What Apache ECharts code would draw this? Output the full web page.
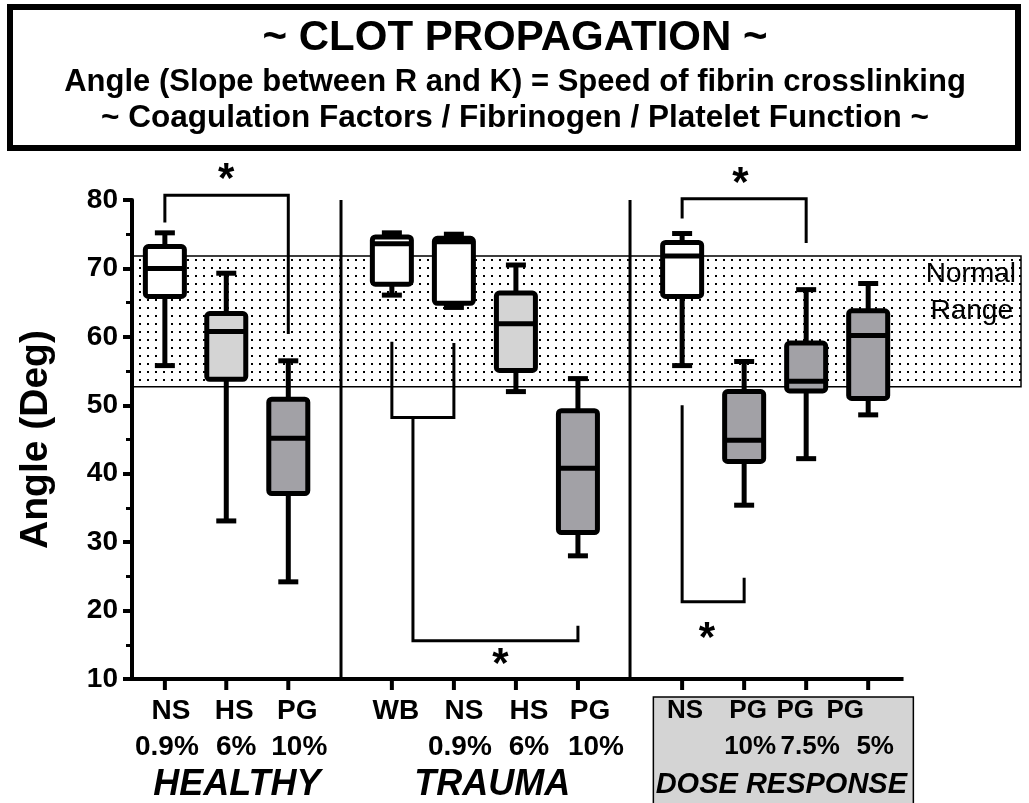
<!DOCTYPE html>
<html>
<head>
<meta charset="utf-8">
<script src="https://cdn.jsdelivr.net/npm/echarts/dist/echarts.min.js"></script>
<style>
  html, body { margin: 0; padding: 0; background: #fff; }
  #chart { width: 1029px; height: 803px; }
</style>
</head>
<body>
<div id="chart"></div>
<script>
// data
var categories = ['NS', 'HS', 'PG', 'WB', 'NS', 'HS', 'PG', 'NS', 'PG', 'PG', 'PG'];
var percents = ['0.9%', '6%', '10%', '', '0.9%', '6%', '10%', '', '10%', '7.5%', '5%'];
var groupNames = ['HEALTHY', 'TRAUMA', 'DOSE RESPONSE'];
var whiskerLow  = [55.8, 33.1, 24.2, 66.1, 64.3, 52.0, 28.0, 55.8, 35.4, 42.2, 48.6];
var quartile1   = [65.9, 53.8, 37.1, 67.7, 64.9, 55.1, 31.4, 65.9, 41.8, 52.1, 51.0];
var medians     = [70.0, 60.8, 45.2, 73.6, 73.9, 61.9, 40.8, 71.8, 44.9, 53.5, 60.2];
var quartile3   = [73.2, 63.4, 50.9, 74.6, 74.4, 66.4, 49.2, 73.8, 52.0, 59.1, 63.8];
var whiskerHigh = [75.2, 69.3, 56.5, 75.2, 75.0, 70.5, 53.9, 75.1, 56.4, 66.9, 67.8];
var normalRange = [52.7, 71.8];
var yTicks = [10, 20, 30, 40, 50, 60, 70, 80];

// significance brackets, in [category index, angle]
var brackets = [
  [[0, 76.7], [0, 80.7], [2, 80.7], [2, 60.4]],
  [[3, 59.3], [3, 48.2], [4, 48.2], [4, 59.1]],
  [[3.34, 48.2], [3.34, 15.6], [6, 15.6], [6, 17.8]],
  [[7, 77.3], [7, 80.2], [9, 80.2], [9, 73.7]],
  [[7, 50.0], [7, 21.3], [8, 21.3], [8, 24.8]]
];
var stars = [[1, 84.1], [4.75, 13.1], [7.94, 83.4], [7.4, 17.0]];

// layout (not data): x positions and label nudges in px
var xPos = [0.53, 1.52, 2.52, 4.19, 5.19, 6.19, 7.19, 8.87, 9.87, 10.87, 11.87];
var nameShift = [6, 8, 9, 4, 10, 13, 12, 3, 4, -11, -23];
var pctShift = [2, 10, 11, 0, 6, 13, 18, 0, 6, 4, 7];
var groupX = [1.69, 5.81, 10.47];
var dividerX = [3.37, 8.03];
var axisEndX = 12.44;
var xMax = 14.35;

var fillOf = { NS: '#ffffff', WB: '#ffffff', HS: '#d4d4d4', PG: '#a2a1a6' };
var FONT = '"Liberation Sans", Arial, sans-serif';

function xAt(idx) {
  var i = Math.floor(idx), f = idx - i;
  if (f === 0) return xPos[i];
  return xPos[i] + f * (xPos[i + 1] - xPos[i]);
}

// dotted fill for the normal range
var dots = document.createElement('canvas');
dots.width = 8; dots.height = 8;
var dctx = dots.getContext('2d');
dctx.fillStyle = '#000';
dctx.fillRect(3, 3, 2, 2);

var chart = echarts.init(document.getElementById('chart'));

function line(a, b, w) {
  return { type: 'line', shape: { x1: a[0], y1: a[1], x2: b[0], y2: b[1] },
           style: { stroke: '#000', lineWidth: w, lineCap: 'butt' } };
}

function bandItem(params, api) {
  var tl = api.coord([0, api.value(1)]);
  var br = api.coord([xMax, api.value(0)]);
  return {
    type: 'group',
    children: [
      { type: 'rect', shape: { x: tl[0], y: tl[1], width: br[0] - tl[0] - 1, height: br[1] - tl[1] },
        style: { fill: { image: dots, repeat: 'repeat' }, stroke: '#000', lineWidth: 1.5 } },
      { type: 'text', x: br[0] - 6, y: tl[1] + 18,
        style: { text: 'Normal', font: '28px ' + FONT, fill: '#000', align: 'right', verticalAlign: 'middle' } },
      { type: 'text', x: br[0] - 9, y: tl[1] + 55,
        style: { text: 'Range', font: '28px ' + FONT, fill: '#000', align: 'right', verticalAlign: 'middle' } }
    ]
  };
}

function frameItem(params, api) {
  var kids = [line(api.coord([0, 10]), api.coord([axisEndX, 10]), 4)];
  dividerX.forEach(function (d) {
    kids.push(line(api.coord([d, 10]), api.coord([d, 80]), 3));
  });
  return { type: 'group', children: kids };
}

function boxItem(params, api) {
  var i = params.dataIndex;
  var x = api.value(0);
  var lo = api.coord([x, api.value(1)]);
  var q1 = api.coord([x, api.value(2)]);
  var md = api.coord([x, api.value(3)]);
  var q3 = api.coord([x, api.value(4)]);
  var hi = api.coord([x, api.value(5)]);
  var base = api.coord([x, 10]);
  var cx = lo[0];
  var hw = 19.5, cw = 10;
  var fs = i >= 7 ? 26 : 28;
  return {
    type: 'group',
    children: [
      line([cx, q3[1]], [cx, hi[1]], 5),
      line([cx, q1[1]], [cx, lo[1]], 5),
      line([cx - cw, hi[1]], [cx + cw, hi[1]], 5),
      line([cx - cw, lo[1]], [cx + cw, lo[1]], 5),
      { type: 'rect', shape: { x: cx - hw, y: q3[1], width: hw * 2, height: q1[1] - q3[1], r: 3 },
        style: { fill: fillOf[categories[i]], stroke: '#000', lineWidth: 5 } },
      line([cx - hw, md[1]], [cx + hw, md[1]], 5),
      line([cx, base[1]], [cx, base[1] + 11], 4),
      { type: 'text', x: cx + nameShift[i], y: base[1] + 32,
        style: { text: categories[i], font: 'bold ' + fs + 'px ' + FONT, fill: '#000', align: 'center', verticalAlign: 'middle' } },
      { type: 'text', x: cx + pctShift[i], y: base[1] + 68,
        style: { text: percents[i], font: 'bold ' + fs + 'px ' + FONT, fill: '#000', align: 'center', verticalAlign: 'middle' } }
    ]
  };
}

function bracketItem(params, api) {
  var pts = brackets[params.dataIndex].map(function (p) {
    return api.coord([xAt(p[0]), p[1]]);
  });
  return { type: 'polyline', shape: { points: pts },
           style: { stroke: '#000', lineWidth: 3, fill: null, lineJoin: 'miter' } };
}

function starItem(params, api) {
  var s = stars[params.dataIndex];
  var p = api.coord([xAt(s[0]), s[1]]);
  return { type: 'text', x: p[0], y: p[1] + 8,
           style: { text: '*', font: 'bold 42px ' + FONT, fill: '#000', align: 'center', verticalAlign: 'middle' } };
}

function groupItem(params, api) {
  var k = params.dataIndex;
  var p = api.coord([groupX[k], 10]);
  var kids = [];
  if (k === 2) {
    kids.push({ type: 'rect', shape: { x: p[0] - 128, y: p[1] + 18, width: 260, height: 120 },
                style: { fill: '#d4d4d4', stroke: '#000', lineWidth: 1.5 } });
  }
  kids.push({ type: 'text', x: p[0], y: p[1] + 106,
              style: { text: groupNames[k], font: 'italic bold ' + (k === 2 ? 29 : 36) + 'px ' + FONT,
                       fill: '#000', align: 'center', verticalAlign: 'middle' } });
  return { type: 'group', children: kids };
}

var boxData = xPos.map(function (x, i) {
  return [x, whiskerLow[i], quartile1[i], medians[i], quartile3[i], whiskerHigh[i]];
});

var option = {
  animation: false,
  grid: { left: 132, right: 7, top: 200, bottom: 124 },
  xAxis: {
    type: 'value', min: 0, max: xMax,
    show: false
  },
  yAxis: {
    type: 'value', min: yTicks[0], max: yTicks[yTicks.length - 1], interval: 10,
    name: 'Angle (Deg)', nameLocation: 'middle', nameRotate: 90, nameGap: 76,
    nameTextStyle: { fontFamily: FONT, fontWeight: 'bold', fontSize: 39, color: '#000' },
    axisLine: { show: true, lineStyle: { color: '#000', width: 4 } },
    axisTick: { show: true, length: 9, lineStyle: { color: '#000', width: 4 } },
    minorTick: { show: true, splitNumber: 2, length: 6, lineStyle: { color: '#000', width: 3 } },
    axisLabel: { fontFamily: FONT, fontWeight: 'bold', fontSize: 28, color: '#000', margin: 14 },
    splitLine: { show: false }
  },
  graphic: [
    { type: 'rect', x: 10, y: 7, shape: { width: 1008, height: 141 },
      style: { fill: '#fff', stroke: '#000', lineWidth: 6 } },
    { type: 'text', x: 515, y: 38,
      style: { text: '~ CLOT PROPAGATION ~', font: 'bold 42px ' + FONT, fill: '#000', align: 'center', verticalAlign: 'middle' } },
    { type: 'text', x: 515, y: 82,
      style: { text: 'Angle (Slope between R and K) = Speed of fibrin crosslinking', font: 'bold 31px ' + FONT, fill: '#000', align: 'center', verticalAlign: 'middle' } },
    { type: 'text', x: 515, y: 118,
      style: { text: '~ Coagulation Factors / Fibrinogen / Platelet Function ~', font: 'bold 31.5px ' + FONT, fill: '#000', align: 'center', verticalAlign: 'middle' } }
  ],
  series: [
    { type: 'custom', name: 'normal', z: 1, renderItem: bandItem, data: [normalRange], clip: false, silent: true },
    { type: 'custom', name: 'groups', z: 1, renderItem: groupItem, data: groupX.map(function (g) { return [g, 10]; }), clip: false, silent: true },
    { type: 'custom', name: 'frame', z: 2, renderItem: frameItem, data: [[0, 10]], clip: false, silent: true },
    { type: 'custom', name: 'brackets', z: 3, renderItem: bracketItem, data: brackets.map(function (b) { return [xAt(b[0][0]), b[0][1]]; }), clip: false, silent: true },
    { type: 'custom', name: 'stars', z: 3, renderItem: starItem, data: stars.map(function (s) { return [xAt(s[0]), s[1]]; }), clip: false, silent: true },
    { type: 'custom', name: 'boxes', z: 4, renderItem: boxItem, data: boxData, encode: { x: 0, y: [1, 2, 3, 4, 5] }, clip: false }
  ]
};

option && chart.setOption(option);
</script>
</body>
</html>
